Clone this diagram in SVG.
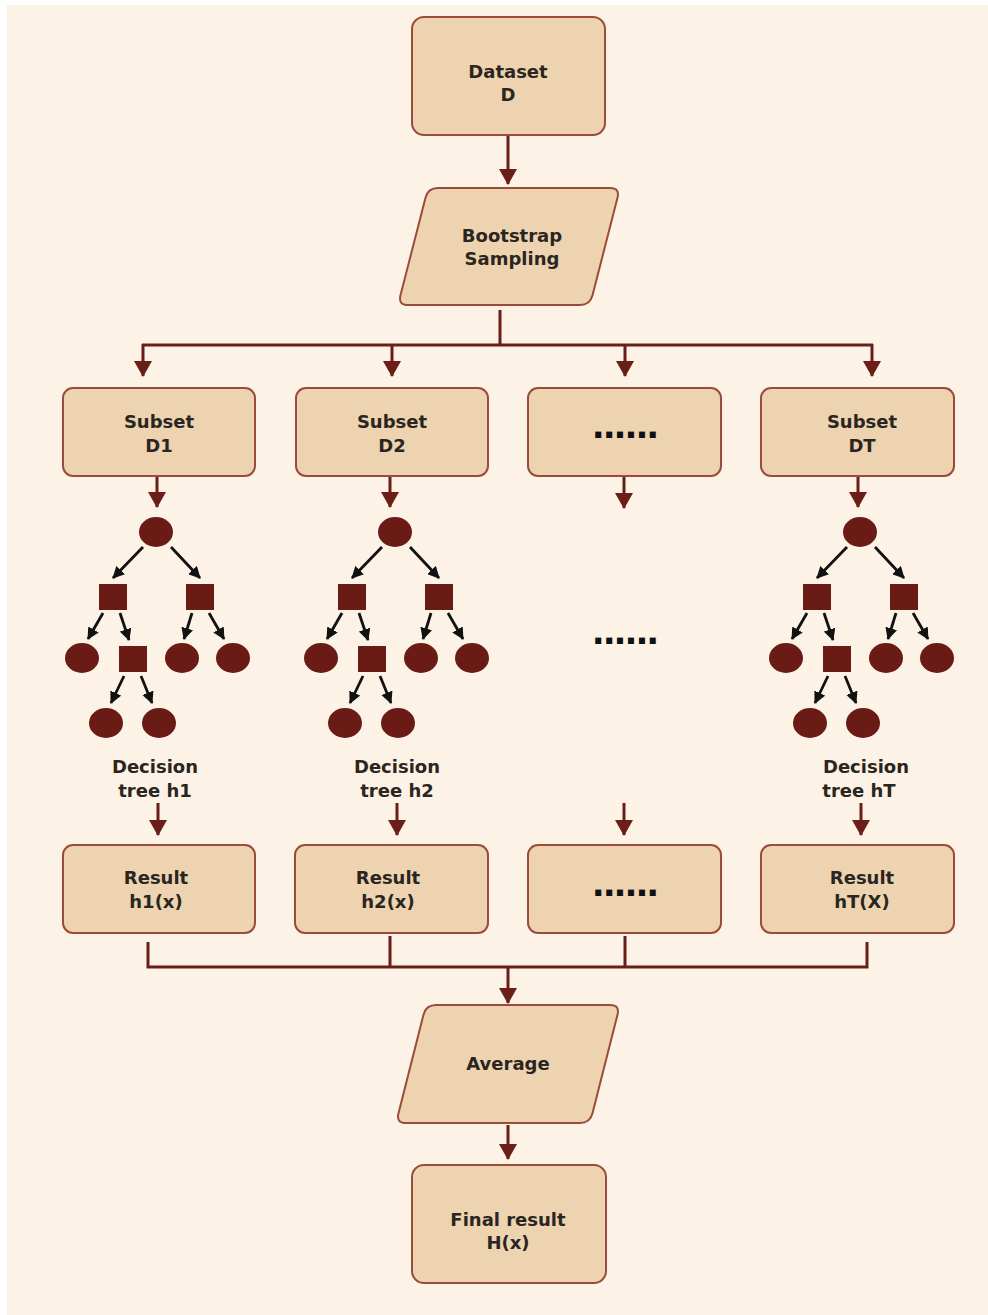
<svg xmlns="http://www.w3.org/2000/svg" xmlns:xlink="http://www.w3.org/1999/xlink" width="988" height="1315" viewBox="0 0 988 1315">
<style>
.bg{fill:#FDF2E6}
.box{fill:#EDD3B0;stroke:#9B4B3C;stroke-width:2}
.t{font-family:"DejaVu Sans",Verdana,sans-serif;font-weight:bold;font-size:18px;fill:#2B2522;text-anchor:middle}
.dots{font-family:"DejaVu Sans",Verdana,sans-serif;font-weight:bold;font-size:34px;letter-spacing:-2px;fill:#111;text-anchor:middle}
.con{fill:none;stroke:#6B1E17;stroke-width:3}
.conA{fill:none;stroke:#6B1E17;stroke-width:3;marker-end:url(#ah)}
.tn{fill:#6A1B15}
.ta{fill:none;stroke:#111;stroke-width:2.8;marker-end:url(#bh)}
</style>
<defs>
<marker id="ah" viewBox="0 0 16 18" refX="15" refY="9" markerWidth="16" markerHeight="18" markerUnits="userSpaceOnUse" orient="auto">
<path d="M0,0 L16,9 L0,18 Z" fill="#6B1E17"/>
</marker>
<marker id="bh" viewBox="0 0 12 12" refX="11" refY="6" markerWidth="12" markerHeight="12" markerUnits="userSpaceOnUse" orient="auto">
<path d="M0,0 L12,6 L0,12 Z" fill="#111"/>
</marker>
<g id="tree">
<ellipse class="tn" cx="0" cy="0" rx="17" ry="15"/>
<rect class="tn" x="-57" y="52" width="28" height="26"/>
<rect class="tn" x="30" y="52" width="28" height="26"/>
<ellipse class="tn" cx="-74" cy="126" rx="17" ry="15"/>
<rect class="tn" x="-37" y="114" width="28" height="26"/>
<ellipse class="tn" cx="26" cy="126" rx="17" ry="15"/>
<ellipse class="tn" cx="77" cy="126" rx="17" ry="15"/>
<ellipse class="tn" cx="-50" cy="191" rx="17" ry="15"/>
<ellipse class="tn" cx="3" cy="191" rx="17" ry="15"/>
<line class="ta" x1="-13" y1="15" x2="-43" y2="46"/>
<line class="ta" x1="15" y1="15" x2="44" y2="46"/>
<line class="ta" x1="-53" y1="81" x2="-68" y2="107"/>
<line class="ta" x1="-36" y1="81" x2="-27" y2="108"/>
<line class="ta" x1="36" y1="81" x2="28" y2="107"/>
<line class="ta" x1="53" y1="81" x2="68" y2="107"/>
<line class="ta" x1="-32" y1="144" x2="-45" y2="171"/>
<line class="ta" x1="-15" y1="144" x2="-4" y2="171"/>
</g>
</defs>
<rect x="0" y="0" width="988" height="1315" fill="#FFFFFF"/>
<rect class="bg" x="7" y="5" width="981" height="1310"/>

<g id="connectors">
<line class="conA" x1="508" y1="136" x2="508" y2="184"/>
<polyline class="con" points="500,310 500,345"/>
<polyline class="con" points="142,345 873,345"/>
<line class="conA" x1="143" y1="344" x2="143" y2="376"/>
<line class="conA" x1="392" y1="344" x2="392" y2="376"/>
<line class="conA" x1="625" y1="344" x2="625" y2="376"/>
<line class="conA" x1="872" y1="344" x2="872" y2="376"/>
<line class="conA" x1="157" y1="477" x2="157" y2="507"/>
<line class="conA" x1="390" y1="477" x2="390" y2="507"/>
<line class="conA" x1="624" y1="477" x2="624" y2="508"/>
<line class="conA" x1="858" y1="477" x2="858" y2="507"/>
<line class="conA" x1="158" y1="803" x2="158" y2="835"/>
<line class="conA" x1="397" y1="803" x2="397" y2="835"/>
<line class="conA" x1="624" y1="803" x2="624" y2="835"/>
<line class="conA" x1="861" y1="803" x2="861" y2="835"/>
<polyline class="con" points="148,942 148,967 867,967 867,942"/>
<line class="con" x1="390" y1="936" x2="390" y2="967"/>
<line class="con" x1="625" y1="936" x2="625" y2="967"/>
<line class="conA" x1="508" y1="966" x2="508" y2="1003"/>
<line class="conA" x1="508" y1="1125" x2="508" y2="1159"/>
</g>

<g id="dataset">
<rect class="box" x="412" y="17" width="193" height="118" rx="12"/>
<text class="t" x="508" y="78">Dataset</text>
<text class="t" x="508" y="101">D</text>
</g>

<g id="bootstrap">
<path class="box" d="M438,188 L610,188 Q620,188 617.5,197.7 L592.5,295.3 Q590,305 580,305 L408,305 Q398,305 400.5,295.3 L425.5,197.7 Q428,188 438,188 Z"/>
<text class="t" x="512" y="242">Bootstrap</text>
<text class="t" x="512" y="265">Sampling</text>
</g>

<g id="subset-d1">
<rect class="box" x="63" y="388" width="192" height="88" rx="10"/>
<text class="t" x="159" y="428">Subset</text>
<text class="t" x="159" y="452">D1</text>
</g>
<g id="subset-d2">
<rect class="box" x="296" y="388" width="192" height="88" rx="10"/>
<text class="t" x="392" y="428">Subset</text>
<text class="t" x="392" y="452">D2</text>
</g>
<g id="subset-dots">
<rect class="box" x="528" y="388" width="193" height="88" rx="10"/>
<text class="dots" x="624.5" y="438">......</text>
</g>
<g id="subset-dt">
<rect class="box" x="761" y="388" width="193" height="88" rx="10"/>
<text class="t" x="862" y="428">Subset</text>
<text class="t" x="862" y="452">DT</text>
</g>

<g id="tree-h1">
<use xlink:href="#tree" href="#tree" x="156" y="532"/>
<text class="t" x="155" y="773">Decision</text>
<text class="t" x="155" y="797">tree h1</text>
</g>
<g id="tree-h2">
<use xlink:href="#tree" href="#tree" x="395" y="532"/>
<text class="t" x="397" y="773">Decision</text>
<text class="t" x="397" y="797">tree h2</text>
</g>
<g id="tree-dots">
<text class="dots" x="624.5" y="644">......</text>
</g>
<g id="tree-ht">
<use xlink:href="#tree" href="#tree" x="860" y="532"/>
<text class="t" x="866" y="773">Decision</text>
<text class="t" x="859" y="797">tree hT</text>
</g>

<g id="result-h1">
<rect class="box" x="63" y="845" width="192" height="88" rx="10"/>
<text class="t" x="156" y="884">Result</text>
<text class="t" x="156" y="908">h1(x)</text>
</g>
<g id="result-h2">
<rect class="box" x="295" y="845" width="193" height="88" rx="10"/>
<text class="t" x="388" y="884">Result</text>
<text class="t" x="388" y="908">h2(x)</text>
</g>
<g id="result-dots">
<rect class="box" x="528" y="845" width="193" height="88" rx="10"/>
<text class="dots" x="624.5" y="896">......</text>
</g>
<g id="result-ht">
<rect class="box" x="761" y="845" width="193" height="88" rx="10"/>
<text class="t" x="862" y="884">Result</text>
<text class="t" x="862" y="908">hT(X)</text>
</g>

<g id="average">
<path class="box" d="M436,1005 L610,1005 Q620,1005 617.5,1014.7 L592.5,1113.3 Q590,1123 580,1123 L406,1123 Q396,1123 398.5,1113.3 L423.5,1014.7 Q426,1005 436,1005 Z"/>
<text class="t" x="508" y="1070">Average</text>
</g>

<g id="final-result">
<rect class="box" x="412" y="1165" width="194" height="118" rx="12"/>
<text class="t" x="508" y="1226">Final result</text>
<text class="t" x="508" y="1249">H(x)</text>
</g>
</svg>
